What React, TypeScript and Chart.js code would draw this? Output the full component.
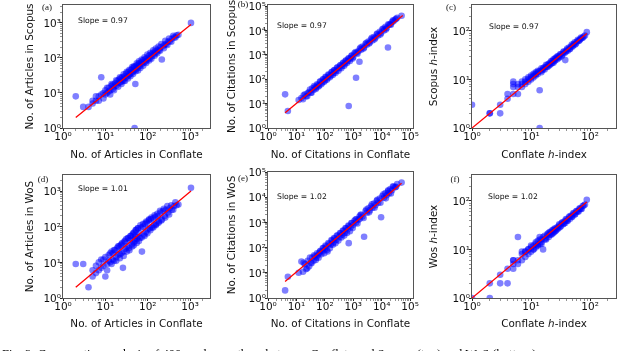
import React, { useEffect, useRef } from "react";
import { Chart, registerables } from "chart.js";
Chart.register(...registerables);

// ---------- data ----------
const articlesConflate = [
  2, 3, 4, 5, 5, 6, 7, 7, 8, 8,
  9, 10, 10, 11, 12, 12, 13, 14, 15, 15,
  16, 17, 18, 19, 20, 21, 22, 23, 24, 25,
  26, 27, 28, 30, 31, 33, 35, 36, 38, 40,
  42, 44, 46, 48, 49, 50, 51, 53, 56, 58,
  60, 63, 66, 70, 73, 77, 82, 86, 90, 95,
  100, 106, 112, 118, 125, 133, 142, 150, 160, 172,
  185, 200, 215, 230, 250, 270, 300, 330, 370, 420,
  480, 530, 1050,
  6, 9, 11, 13, 14, 16, 18, 20, 22, 24,
  27, 29, 32, 34, 37, 39, 43, 45, 47, 52,
  55, 59, 62, 67, 72, 78, 84, 92, 98, 108,
  115, 122, 135, 145, 155, 168, 180, 195, 210, 240,
  260, 290, 320, 360, 400, 450,
];
const articlesScopus = [
  8, 4, 4, 5, 6, 6, 8, 6, 28, 9,
  10, 12, 9, 10, 14, 11, 12, 16, 13, 17,
  15, 19, 16, 22, 19, 24, 20, 26, 21, 28,
  24, 22, 30, 27, 36, 30, 40, 32, 35, 45,
  38, 50, 41, 54, 1, 46, 18, 60, 50, 65,
  56, 70, 60, 75, 68, 85, 74, 92, 80, 100,
  90, 115, 100, 125, 112, 140, 128, 155, 145, 170,
  165, 200, 90, 215, 240, 245, 290, 300, 350, 390,
  440, 460, 1000,
  8, 7, 14, 9, 18, 12, 23, 15, 28, 18,
  34, 22, 40, 26, 46, 30, 55, 35, 58, 42,
  70, 44, 80, 52, 90, 60, 105, 72, 125, 85,
  140, 95, 165, 115, 185, 135, 210, 160, 250, 190,
  310, 235, 360, 290, 430, 380,
];
const articlesWos = [
  9, 9, 2, 6, 4, 5, 10, 6, 7, 12,
  8, 4, 14, 9, 16, 11, 10, 20, 12, 18,
  11, 22, 14, 25, 16, 28, 17, 30, 18, 35,
  7, 20, 38, 24, 45, 28, 48, 25, 42, 55,
  32, 60, 36, 70, 45, 40, 55, 80, 45, 90,
  52, 65, 48, 95, 20, 100, 60, 120, 70, 130,
  85, 150, 90, 160, 95, 170, 110, 190, 120, 200,
  140, 250, 160, 280, 200, 300, 250, 330, 300, 380,
  400, 420, 1230,
  8, 12, 6, 18, 9, 22, 11, 28, 13, 32,
  15, 40, 20, 48, 22, 55, 28, 65, 30, 80,
  35, 90, 40, 110, 50, 120, 55, 140, 65, 160,
  80, 180, 95, 210, 110, 230, 130, 280, 150, 320,
  180, 380, 220, 400, 300, 480,
];

const citationsConflate = [
  4, 5, 12, 15, 17, 20, 22, 25, 28, 32,
  36, 40, 45, 50, 56, 63, 70, 80, 90, 100,
  110, 125, 140, 160, 180, 200, 220, 250, 280, 320,
  360, 400, 450, 500, 560, 630, 690, 700, 800, 900,
  1000, 1100, 1250, 1300, 1500, 1650, 1700, 1900, 2100, 2400,
  2700, 3000, 3400, 3800, 4200, 4700, 5300, 6000, 6700, 7500,
  8500, 9500, 10500, 12000, 13500, 15000, 16600, 18000, 20000, 23000,
  26000, 30000, 35000, 50000,
  18, 24, 30, 34, 42, 48, 53, 60, 67, 75,
  85, 95, 105, 118, 132, 150, 170, 190, 210, 235,
  265, 300, 340, 380, 430, 480, 530, 600, 670, 760,
  850, 950, 1200, 1400, 1800, 2300, 2900, 3600, 4500, 5600,
  7000, 9000, 11500, 14000, 17000, 21000, 25000, 32000,
];
const citationsScopus = [
  24, 5, 14, 17, 15, 24, 20, 27, 30, 28,
  42, 36, 48, 45, 58, 55, 80, 72, 100, 88,
  120, 110, 150, 140, 200, 175, 240, 220, 310, 280,
  380, 340, 480, 420, 600, 540, 8, 720, 700, 950,
  820, 1150, 115, 1200, 1400, 520, 1750, 1600, 2200, 2000,
  2800, 2600, 3500, 3200, 4300, 3900, 5400, 5000, 7000, 6200,
  8800, 7800, 11000, 10000, 14000, 12500, 2000, 17000, 18000, 22000,
  24000, 28000, 33000, 40000,
  22, 20, 38, 28, 52, 40, 62, 50, 80, 62,
  100, 78, 125, 95, 155, 120, 190, 150, 230, 180,
  290, 220, 360, 280, 450, 360, 560, 460, 700, 560,
  880, 700, 1300, 1100, 2000, 1800, 3100, 2900, 5000, 4300,
  7500, 6800, 12000, 11000, 18000, 17000, 26000, 30000,
];
const citationsWos = [
  2, 7, 10, 28, 11, 22, 14, 30, 18, 25,
  40, 30, 45, 40, 50, 60, 75, 70, 95, 85,
  110, 70, 140, 130, 190, 160, 230, 200, 300, 260,
  370, 320, 460, 380, 580, 520, 150, 720, 650, 950,
  800, 1150, 1000, 1350, 1250, 1700, 1400, 2000, 1700, 270,
  2800, 2400, 3600, 3000, 4400, 3800, 5600, 4800, 7200, 6000,
  8800, 1600, 11000, 9500, 14500, 12000, 17000, 14500, 21000, 19000,
  26000, 25000, 33000, 38000,
  25, 15, 40, 24, 50, 32, 60, 40, 70, 55,
  95, 60, 120, 80, 150, 95, 200, 130, 240, 150,
  300, 190, 380, 250, 470, 300, 600, 380, 750, 450,
  950, 600, 1300, 900, 2000, 1500, 3200, 2500, 5200, 3800,
  7800, 6000, 13000, 9000, 19000, 14000, 27000, 26000,
];

const hConflate = [
  1, 2, 2, 3, 3, 4, 4, 5, 5, 5,
  6, 6, 7, 7, 8, 8, 9, 9, 10, 10,
  11, 11, 12, 12, 13, 13, 14, 14, 15, 15,
  16, 17, 17, 18, 19, 20, 20, 21, 22, 23,
  24, 25, 26, 27, 28, 29, 30, 32, 33, 35,
  37, 38, 40, 42, 44, 46, 48, 50, 53, 56,
  60, 64, 68, 72, 78, 88,
  5, 6, 7, 8, 9, 10, 11, 12, 13, 14,
  15, 16, 18, 19, 21, 22, 23, 24, 25, 26,
  28, 30, 31, 34, 36, 39, 41, 45, 49, 52,
  55, 58, 62, 66, 70, 75, 82,
];
const hScopus = [
  3, 2, 2, 3, 2, 5, 4, 9, 8, 5,
  5, 7, 7, 8, 8, 9, 9, 10, 10, 12,
  11, 12, 12, 13, 13, 14, 6, 1, 15, 14,
  16, 18, 16, 18, 20, 19, 21, 22, 21, 24,
  22, 26, 25, 28, 26, 30, 28, 33, 30, 36,
  35, 25, 40, 39, 45, 43, 48, 47, 54, 52,
  60, 62, 67, 70, 76, 94,
  7, 8, 9, 10, 11, 11, 13, 14, 15, 15,
  17, 17, 20, 18, 20, 24, 22, 26, 24, 28,
  30, 29, 33, 32, 38, 37, 43, 42, 52, 50,
  58, 55, 65, 63, 73, 72, 80,
];
const hWos = [
  1, 1, 2, 2, 3, 2, 4, 4, 6, 5,
  18, 6, 6, 8, 7, 9, 8, 10, 9, 11,
  10, 12, 11, 13, 12, 15, 18, 13, 14, 16,
  10, 16, 19, 17, 20, 18, 22, 20, 23, 21,
  25, 23, 27, 25, 29, 27, 31, 30, 35, 33,
  38, 35, 41, 39, 46, 43, 50, 47, 55, 53,
  62, 60, 70, 68, 80, 105,
  6, 5, 9, 9, 10, 12, 10, 14, 12, 16,
  13, 18, 16, 21, 23, 20, 25, 22, 27, 24,
  27, 33, 29, 36, 34, 42, 39, 48, 47, 56,
  52, 61, 60, 69, 68, 78, 84,
];

// fitted lines (end points)
const fitArticlesX = [2, 1050];
const fitArticlesScopusY = [2, 900];
const fitArticlesWosY = [2, 1000];
const fitCitationsScopusX = [4, 55000];
const fitCitationsScopusY = [4.2, 41000];
const fitCitationsWosX = [4, 50000];
const fitCitationsWosY = [4.5, 36000];
const fitHX = [1, 88];
const fitHScopusY = [1, 88];
const fitHWosY = [1, 95];

// axis limits
const articlesXMax = 2950;
const citationsXMax = 126000;
const hXMax = 275;
const yMaxA = 3240;
const yMaxB = 110000;
const yMaxC = 340;
const yMaxD = 2820;
const yMaxE = 100000;
const yMaxF = 340;

const slopeLabels = ["Slope = 0.97", "Slope = 0.97", "Slope = 0.97", "Slope = 1.01", "Slope = 1.02", "Slope = 1.02"];
const panelLabels = ["(a)", "(b)", "(c)", "(d)", "(e)", "(f)"];
const xTitles = ["No. of Articles in Conflate", "No. of Citations in Conflate", "Conflate \u210E-index"];
const yTitles = [
  "No. of Articles in Scopus",
  "No. of Citations in Scopus",
  "Scopus \u210E-index",
  "No. of Articles in WoS",
  "No. of Citations in WoS",
  "Wos \u210E-index",
];

// ---------- layout ----------
const cols = [
  { cx: 0, L: 63, R: 210, yTitleX: 30 },
  { cx: 200, L: 268, R: 413, yTitleX: 232 },
  { cx: 405, L: 472, R: 616, yTitleX: 434.5 },
];
const rows = [
  { cy: -5, B: 128, bottomEdge: 170, xTitleY: 155 },
  { cy: 160, B: 298, bottomEdge: 340, xTitleY: 324 },
];
const RIGHT_PAD = 14;

const panels = [
  { xs: articlesConflate, ys: articlesScopus, fx: fitArticlesX, fy: fitArticlesScopusY, xMax: articlesXMax, yMax: yMaxA, col: 0, row: 0, T: 5, sdx: 15, sdy: 16, ldx: -16, ldy: 3 },
  { xs: citationsConflate, ys: citationsScopus, fx: fitCitationsScopusX, fy: fitCitationsScopusY, xMax: citationsXMax, yMax: yMaxB, col: 1, row: 0, T: 5, sdx: 9, sdy: 21, ldx: -25, ldy: 0 },
  { xs: hConflate, ys: hScopus, fx: fitHX, fy: fitHScopusY, xMax: hXMax, yMax: yMaxC, col: 2, row: 0, T: 5, sdx: 17, sdy: 22, ldx: -21, ldy: 3 },
  { xs: articlesConflate, ys: articlesWos, fx: fitArticlesX, fy: fitArticlesWosY, xMax: articlesXMax, yMax: yMaxD, col: 0, row: 1, T: 175, sdx: 15, sdy: 14, ldx: -20, ldy: 5 },
  { xs: citationsConflate, ys: citationsWos, fx: fitCitationsWosX, fy: fitCitationsWosY, xMax: citationsXMax, yMax: yMaxE, col: 1, row: 1, T: 172, sdx: 9, sdy: 25, ldx: -25, ldy: 7 },
  { xs: hConflate, ys: hWos, fx: fitHX, fy: fitHWosY, xMax: hXMax, yMax: yMaxF, col: 2, row: 1, T: 175, sdx: 16, sdy: 22, ldx: -17, ldy: 5 },
];

const SUP: Record<string, string> = { "0": "\u2070", "1": "\u00B9", "2": "\u00B2", "3": "\u00B3", "4": "\u2074", "5": "\u2075", "6": "\u2076" };
function powLabel(v: number): string {
  const l = Math.log10(v);
  const r = Math.round(l);
  if (Math.abs(l - r) > 1e-6) return "";
  return "10" + String(r).split("").map((c) => SUP[c] || c).join("");
}
function logTicks(min: number, max: number) {
  const out: { value: number }[] = [];
  const e0 = Math.floor(Math.log10(min) + 1e-9);
  const e1 = Math.ceil(Math.log10(max));
  for (let e = e0; e <= e1; e++) {
    for (let m = 1; m <= 9; m++) {
      const v = m * Math.pow(10, e);
      if (v >= min * 0.9999 && v <= max * 1.0001) out.push({ value: v });
    }
  }
  return out;
}

const FONT = "'DejaVu Sans', 'Noto Sans', sans-serif";
const TITLE_SIZE = 10.4;
const TITLE_LH = TITLE_SIZE * 1.2;

function geom(p: any) {
  const c = cols[p.col];
  const r = rows[p.row];
  const cw = c.R + RIGHT_PAD - c.cx;
  const ch = r.bottomEdge - r.cy;
  return { ...c, ...r, cw, ch, T: p.T };
}

export default function App() {
  const refs = useRef<(HTMLCanvasElement | null)[]>([]);

  useEffect(() => {
    const charts: Chart[] = [];
    panels.forEach((p, i) => {
      const cv = refs.current[i];
      if (!cv) return;
      const g = geom(p);
      const isMajor = (ctx: any) => ctx && ctx.tick && powLabel(ctx.tick.value) !== "";
      const grid = {
        display: true,
        drawOnChartArea: false,
        drawTicks: true,
        tickLength: 3,
        tickColor: (ctx: any) => (isMajor(ctx) ? "#222" : "#666"),
        tickWidth: (ctx: any) => (isMajor(ctx) ? 1 : 0.7),
      };
      const framePlugin = {
        id: "frame" + i,
        afterDatasetsDraw(chart: any) {
          const a = chart.chartArea;
          const ctx = chart.ctx;
          ctx.save();
          ctx.strokeStyle = "#555";
          ctx.lineWidth = 1;
          ctx.strokeRect(a.left - 0.5, a.top - 0.5, a.right - a.left + 1, a.bottom - a.top + 1);
          ctx.restore();
        },
        afterDraw(chart: any) {
          const a = chart.chartArea;
          const ctx = chart.ctx;
          ctx.save();
          ctx.fillStyle = "#111";
          ctx.textBaseline = "middle";
          ctx.textAlign = "left";
          ctx.font = "7.7px " + FONT;
          ctx.fillText(slopeLabels[i], a.left + p.sdx, a.top + p.sdy);
          ctx.textAlign = "center";
          ctx.font = "9px 'Liberation Serif', 'DejaVu Serif', serif";
          ctx.fillText(panelLabels[i], a.left + p.ldx, a.top + p.ldy);
          ctx.restore();
        },
      };
      const chart = new Chart(cv, {
        type: "scatter",
        data: {
          datasets: [
            {
              data: p.fx.map((x: number, k: number) => ({ x, y: p.fy[k] })),
              showLine: true,
              borderColor: "#ff0000",
              borderWidth: 1.3,
              pointRadius: 0,
              backgroundColor: "#ff0000",
              clip: 0,
            } as any,
            {
              data: p.xs.map((x: number, k: number) => ({ x, y: p.ys[k] })),
              backgroundColor: "rgba(0,0,255,0.5)",
              borderWidth: 0,
              pointRadius: 3.3,
              pointHoverRadius: 3.3,
              clip: 0,
            } as any,
          ],
        },
        options: {
          responsive: false,
          maintainAspectRatio: false,
          animation: false,
          events: [],
          layout: { padding: { left: 0, top: g.T - g.cy, right: RIGHT_PAD, bottom: 0 } },
          plugins: { legend: { display: false }, tooltip: { enabled: false } },
          scales: {
            x: {
              type: "logarithmic",
              position: "bottom",
              min: 1,
              max: p.xMax,
              afterBuildTicks: (s: any) => {
                s.ticks = logTicks(1, p.xMax);
              },
              afterFit: (s: any) => {
                s.height = g.bottomEdge - g.B;
              },
              ticks: {
                autoSkip: false,
                maxRotation: 0,
                minRotation: 0,
                padding: 0,
                color: "#111",
                font: { family: FONT, size: 10.5 },
                callback: (v: any) => powLabel(Number(v)),
              },
              grid,
              border: { display: false },
              title: {
                display: true,
                text: xTitles[p.col],
                color: "#111",
                font: { family: FONT, size: TITLE_SIZE },
                padding: { top: 0, bottom: g.bottomEdge - g.xTitleY - TITLE_LH / 2 },
              },
            } as any,
            y: {
              type: "logarithmic",
              position: "left",
              min: 1,
              max: p.yMax,
              afterBuildTicks: (s: any) => {
                s.ticks = logTicks(1, p.yMax);
              },
              afterFit: (s: any) => {
                s.width = g.L - g.cx;
              },
              ticks: {
                autoSkip: false,
                padding: -1,
                labelOffset: 1.5,
                color: "#111",
                font: { family: FONT, size: 10.5 },
                callback: (v: any) => powLabel(Number(v)),
              },
              grid,
              border: { display: false },
              title: {
                display: true,
                text: yTitles[i],
                color: "#111",
                font: { family: FONT, size: TITLE_SIZE },
                padding: { top: g.yTitleX - g.cx - TITLE_LH / 2, bottom: 0 },
              },
            } as any,
          },
        },
        plugins: [framePlugin],
      } as any);
      charts.push(chart);
    });
    return () => charts.forEach((c) => c.destroy());
  }, []);

  return (
    <div
      style={{
        position: "absolute",
        left: 0,
        top: 0,
        width: 640,
        height: 351,
        overflow: "hidden",
        background: "#fff",
      }}
    >
      {panels.map((p, i) => {
        const g = geom(p);
        return (
          <canvas
            key={i}
            ref={(el) => {
              refs.current[i] = el;
            }}
            width={g.cw}
            height={g.ch}
            style={{ position: "absolute", left: g.cx, top: g.cy, width: g.cw, height: g.ch }}
          />
        );
      })}
      <div
        style={{
          position: "absolute",
          left: 2,
          top: 347,
          whiteSpace: "nowrap",
          fontFamily: "'Liberation Serif', 'DejaVu Serif', serif",
          fontSize: 12.5,
          lineHeight: "14px",
          color: "#000",
          opacity: 0.99,
          willChange: "transform",
        }}
      >
        Fig. 3: Comparative analysis of 400 random authors between Conflate and Scopus (top) and WoS (bottom).
      </div>
    </div>
  );
}
